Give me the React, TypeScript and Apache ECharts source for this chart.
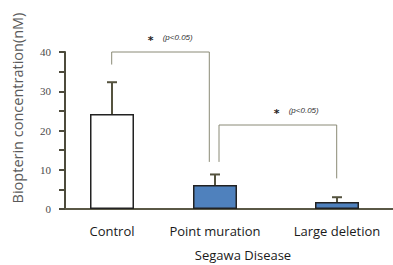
import React, { useEffect, useRef } from "react";
import * as echarts from "echarts";

// ---- data ----
const categories = ["Control", "Point muration", "Large deletion"];
const means = [24.2, 6.1, 1.8];
const errorTops = [32.3, 8.8, 3.0];
const yTicks = [0, 10, 20, 30, 40];
const yTitle = "Biopterin concentration(nM)";
const xTitle = "Segawa Disease";
const sigLabel = "(p<0.05)";

// ---- layout (data-space positions of the groups and brackets) ----
const xPositions = [0.47, 1.5, 2.72];
const xMax = 3.28;
const barColors = ["#ffffff", "#4f81bd", "#4f81bd"];
// [x1, x2, yTop, yLeftEnd, yRightEnd, starX]
const brackets = [
  [0.467, 1.443, 40, 36.8, 12.0, 0.857],
  [1.54, 2.717, 21.4, 12.0, 7.8, 2.117],
];

const AXIS = "#4d4b3c";

export default function App() {
  const ref = useRef<HTMLDivElement>(null);
  useEffect(() => {
    if (!ref.current) return;
    const chart = echarts.init(ref.current, null, { renderer: "svg" });
    chart.setOption({
      animation: false,
      color: ["#222222"],
      grid: { left: 65, right: 0, top: 52, bottom: 56 },
      xAxis: {
        type: "value",
        min: 0,
        max: xMax,
        splitLine: { show: false },
        axisTick: { show: false },
        axisLine: { show: true, lineStyle: { color: "#5a5846", width: 2 } },
        axisLabel: {
          customValues: xPositions,
          formatter: (v: number) => {
            const i = xPositions.indexOf(v);
            return i >= 0 ? categories[i] : "";
          },
          fontFamily: "Open Sans",
          fontSize: 13,
          color: "#1a1a1a",
          margin: 15,
        },
      },
      yAxis: {
        type: "value",
        min: yTicks[0],
        max: yTicks[yTicks.length - 1],
        interval: 10,
        splitLine: { show: false },
        axisLine: { show: true, lineStyle: { color: AXIS, width: 2 } },
        axisTick: { show: true, length: 6, lineStyle: { color: AXIS, width: 2 } },
        minorTick: { show: true, splitNumber: 2, length: 6, lineStyle: { color: AXIS, width: 2 } },
        axisLabel: {
          fontFamily: "Liberation Serif",
          fontSize: 11,
          color: "#4a4a4a",
          margin: 14,
        },
      },
      graphic: [
        {
          type: "text",
          x: 17,
          y: 108,
          rotation: Math.PI / 2,
          style: {
            text: yTitle,
            font: '14.5px "Open Sans"',
            fill: "#5a5a5a",
            align: "center",
            verticalAlign: "middle",
          },
        },
        {
          type: "text",
          x: 243,
          y: 255,
          style: {
            text: xTitle,
            font: '13px "Open Sans"',
            fill: "#1a1a1a",
            align: "center",
            verticalAlign: "middle",
          },
        },
      ],
      series: [
        {
          type: "bar",
          barWidth: 44,
          data: means.map((m, i) => ({
            value: [xPositions[i], m],
            itemStyle: { color: barColors[i], borderColor: "#222", borderWidth: 1.5 },
          })),
        },
        {
          type: "custom",
          clip: false,
          itemStyle: { color: "#55533f" },
          data: means.map((m, i) => [xPositions[i], m, errorTops[i]]),
          renderItem: (params: any, api: any) => {
            const base = api.coord([api.value(0), api.value(1)]);
            const top = api.coord([api.value(0), api.value(2)]);
            const st = { stroke: "#55533f", lineWidth: 2 };
            return {
              type: "group",
              children: [
                { type: "line", shape: { x1: base[0], y1: base[1], x2: top[0], y2: top[1] }, style: st },
                { type: "line", shape: { x1: top[0] - 5, y1: top[1], x2: top[0] + 5, y2: top[1] }, style: st },
              ],
            };
          },
        },
        {
          type: "custom",
          clip: false,
          itemStyle: { color: "#222222" },
          data: brackets,
          renderItem: (params: any, api: any) => {
            const x1 = api.value(0), x2 = api.value(1), yt = api.value(2);
            const yl = api.value(3), yr = api.value(4), sx = api.value(5);
            const a = api.coord([x1, yl]);
            const b = api.coord([x1, yt]);
            const c = api.coord([x2, yt]);
            const d = api.coord([x2, yr]);
            const s = api.coord([sx, yt]);
            return {
              type: "group",
              children: [
                {
                  type: "polyline",
                  shape: { points: [a, b, c, d] },
                  style: { stroke: "#8a8a76", lineWidth: 1, fill: "none" },
                },
                {
                  type: "text",
                  x: s[0],
                  y: s[1] - 12,
                  style: {
                    text: "*",
                    fontSize: 11,
                    fontWeight: "bold",
                    fontFamily: "DejaVu Sans",
                    fill: "#222222",
                    align: "center",
                    verticalAlign: "middle",
                  },
                },
                {
                  type: "text",
                  x: s[0] + 12,
                  y: s[1] - 15,
                  style: {
                    text: sigLabel,
                    fontSize: 8,
                    fontStyle: "italic",
                    fontFamily: "Liberation Sans",
                    fill: "#333333",
                    align: "left",
                    verticalAlign: "middle",
                  },
                },
              ],
            };
          },
        },
      ],
    });
    return () => chart.dispose();
  }, []);
  return (
    <div
      ref={ref}
      style={{ position: "fixed", left: 0, top: 0, width: 393, height: 265, background: "#fff" }}
    />
  );
}
